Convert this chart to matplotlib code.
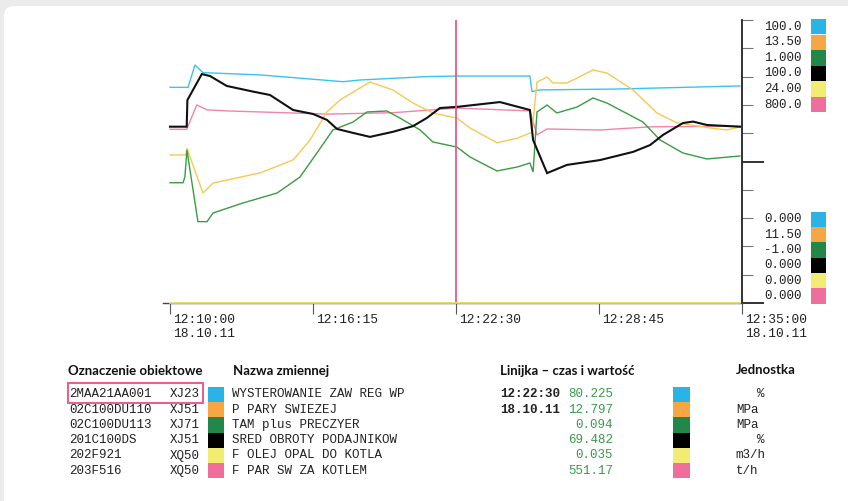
import matplotlib
matplotlib.use("Agg")
import matplotlib.pyplot as plt
from matplotlib.patches import FancyBboxPatch, Rectangle
import matplotlib.transforms as mtransforms

# ---------------- data ----------------
time_ticks = [0, 6.25, 12.5, 18.75, 25]          # minutes after 12:10:00
time_labels = ["12:10:00\n18.10.11", "12:16:15", "12:22:30", "12:28:45", "12:35:00\n18.10.11"]
cursor_t = 12.5

series_names = ["WYSTEROWANIE ZAW REG WP", "P PARY SWIEZEJ", "TAM plus PRECZYER",
                "SRED OBROTY PODAJNIKOW", "F OLEJ OPAL DO KOTLA", "F PAR SW ZA KOTLEM"]
series_ids = ["2MAA21AA001", "02C100DU110", "02C100DU113", "201C100DS", "202F921", "203F516"]
series_codes = ["XJ23", "XJ51", "XJ71", "XJ51", "XQ50", "XQ50"]
units = ["%", "MPa", "MPa", "%", "m3/h", "t/h"]
scale_max = [100.0, 13.50, 1.000, 100.0, 24.00, 800.0]
scale_max_lbl = ["100.0", "13.50", "1.000", "100.0", "24.00", "800.0"]
scale_min = [0.0, 11.50, -1.00, 0.0, 0.0, 0.0]
scale_min_lbl = ["0.000", "11.50", "-1.00", "0.000", "0.000", "0.000"]
cursor_vals = ["80.225", "12.797", "0.094", "69.482", "0.035", "551.17"]

cyan_t = [0, 0.79, 1.09, 1.44, 3.93, 7.56, 8.30, 11.23, 12.54, 15.73, 15.82, 16.17, 19.5, 24.91]
cyan_v = [76.2, 76.2, 84.1, 81.4, 80.6, 78.2, 78.8, 80.0, 80.2, 80.2, 74.7, 75.3, 75.6, 76.7]

orange_t = [0, 0.70, 0.74, 1.44, 1.88, 3.93, 5.38, 6.12, 6.86, 7.43, 8.74, 9.75, 10.62, 11.49,
            12.54, 13.11, 14.29, 15.17, 15.82, 16.04, 16.48, 16.74, 17.35, 17.79, 18.49, 19.10,
            20.24, 21.28, 22.16, 23.60, 24.34, 24.91]
orange_v = [12.546, 12.546, 12.595, 12.277, 12.348, 12.419, 12.511, 12.652, 12.850, 12.935,
            13.062, 13.005, 12.913, 12.843, 12.807, 12.737, 12.633, 12.664, 12.707, 13.062,
            13.097, 13.055, 13.055, 13.090, 13.147, 13.125, 13.005, 12.843, 12.773, 12.737,
            12.723, 12.744]

green_t = [0, 0.57, 0.65, 0.74, 1.22, 1.62, 1.88, 3.19, 4.68, 5.68, 6.42, 7.12, 8.00, 8.61,
           9.48, 10.05, 10.93, 11.49, 12.54, 13.11, 14.29, 15.17, 15.73, 15.87, 16.04, 16.48,
           16.91, 17.79, 18.49, 19.10, 20.67, 21.42, 22.42, 23.47, 24.91]
green_v = [-0.150, -0.150, -0.110, 0.081, -0.425, -0.425, -0.364, -0.293, -0.223, -0.110,
           0.060, 0.223, 0.279, 0.350, 0.357, 0.307, 0.223, 0.138, 0.102, 0.032, -0.067,
           -0.039, -0.011, -0.074, 0.350, 0.399, 0.343, 0.385, 0.449, 0.413, 0.279, 0.152,
           0.060, 0.018, 0.039]

black_t = [0, 0.73, 0.76, 1.39, 1.75, 2.48, 3.63, 4.37, 5.38, 6.25, 6.86, 7.30, 8.00, 8.74,
           9.75, 10.62, 11.23, 11.80, 12.54, 14.42, 15.73, 15.87, 16.48, 17.35, 18.79, 20.24,
           20.98, 21.55, 22.42, 22.86, 23.47, 24.91]
black_v = [62.3, 62.3, 71.7, 80.9, 80.2, 76.7, 74.7, 73.5, 68.2, 66.8, 64.7, 61.5, 60.1, 58.7,
           60.5, 62.5, 65.4, 68.9, 69.3, 71.0, 68.2, 57.6, 45.9, 48.8, 50.5, 53.4, 55.8, 59.4,
           63.6, 64.1, 62.9, 62.3]

yellow_t = [0, 24.91]
yellow_v = [0.035, 0.035]

pink_t = [0, 0.73, 1.17, 1.62, 2.5, 6.86, 9.75, 12.54, 15.73, 16.04, 16.48, 18.79, 20.98, 24.91]
pink_v = [491, 491, 560, 546, 543, 534, 538, 551, 543, 475, 492, 489, 498, 500]

# ---------------- styles ----------------
swatch_colors = ["#2ab4e6", "#f6a744", "#23874a", "#000000", "#f3ec72", "#ee6f9c"]
line_colors = ["#3cc2ee", "#f7c852", "#3a9c42", "#111111", "#efe060", "#f184aa"]
line_widths = [1.0, 1.0, 1.0, 1.5, 1.2, 1.0]
mono = "Liberation Mono"
head = "Lato"

W, H = 848, 501
fig = plt.figure(figsize=(W / 100, H / 100), dpi=100, facecolor="#ebebeb")

def fx(px):
    return px / W

def fy(py):
    return 1 - py / H

# white rounded panel
panel = FancyBboxPatch((0.04, -0.3), 9.0, H / 100 - 0.06 + 0.3,
                       boxstyle="round,pad=0,rounding_size=0.1",
                       transform=fig.dpi_scale_trans, facecolor="white",
                       edgecolor="none", zorder=-10)
fig.patches.append(panel)

# ---------------- main axes ----------------
x0, x1, ytop, ybot = 163, 742, 20, 303
ax = fig.add_axes([fx(x0), fy(ybot), fx(x1) - fx(x0), (ybot - ytop) / H])
ax.set_zorder(5)
ax.set_facecolor("none")
px_per_min = (x1 - 170) / 25.0
ax.set_xlim(-(170 - x0) / px_per_min, 25)
ax.set_ylim(0, 1)

all_t = [cyan_t, orange_t, green_t, black_t, yellow_t, pink_t]
all_v = [cyan_v, orange_v, green_v, black_v, yellow_v, pink_v]
order = [4, 0, 5, 1, 2, 3]
for i in order:
    lo, hi = scale_min[i], scale_max[i]
    yn = [(v - lo) / (hi - lo) for v in all_v[i]]
    ax.plot(all_t[i], yn, color=line_colors[i], lw=line_widths[i], zorder=3 + (i == 4) * 3,
            solid_joinstyle="miter", clip_on=False)

ax.axvline(cursor_t, color="#e9578a", lw=1.3, zorder=5)

for s in ["top", "left"]:
    ax.spines[s].set_visible(False)
ax.spines["bottom"].set_color("#444444")
ax.spines["bottom"].set_linewidth(1.0)
ax.spines["right"].set_color("#222222")
ax.spines["right"].set_linewidth(1.3)

ax.set_xticks(time_ticks)
ax.set_xticklabels(time_labels, fontfamily=mono, fontsize=9.3, color="#222222",
                   linespacing=1.25)
ax.tick_params(axis="x", direction="out", length=8, width=0.8, color="#555555", pad=0)
offset = mtransforms.ScaledTranslation(3 / 100, 0, fig.dpi_scale_trans)
for lbl in ax.get_xticklabels():
    lbl.set_horizontalalignment("left")
    lbl.set_transform(lbl.get_transform() + offset)

ax.yaxis.tick_right()
ax.set_yticks([0, 0.5])
ax.set_yticks([0.1, 0.2, 0.3, 0.4, 0.6, 0.7, 0.8, 0.9, 1.0], minor=True)
ax.tick_params(axis="y", which="major", direction="out", length=16, width=1.3,
               color="#222222", labelright=False, labelleft=False)
ax.tick_params(axis="y", which="minor", direction="out", length=8, width=0.8,
               color="#777777", labelright=False, labelleft=False)

# ---------------- right scale labels ----------------
top_rows = [26.7, 42.3, 57.9, 73.5, 89.1, 104.7]
bot_rows = [219.5, 234.8, 250.1, 265.4, 280.7, 296.0]
for i in range(6):
    fig.text(fx(802), fy(top_rows[i]), scale_max_lbl[i], ha="right", va="center",
             fontfamily=mono, fontsize=9, color="#222222")
    fig.text(fx(802), fy(bot_rows[i]), scale_min_lbl[i], ha="right", va="center",
             fontfamily=mono, fontsize=9, color="#222222")
    for rows in (top_rows, bot_rows):
        yc = rows[i]
        fig.patches.append(Rectangle((fx(811), fy(yc + 7.65)), fx(826) - fx(811), 15.3 / H,
                                     transform=fig.transFigure, facecolor=swatch_colors[i],
                                     edgecolor="none", zorder=2))

# ---------------- table ----------------
hdr_y = 371
fig.text(fx(68), fy(hdr_y), "Oznaczenie obiektowe", fontfamily=head, fontweight="bold",
         fontsize=9.5, ha="left", va="center", color="#111111")
fig.text(fx(233), fy(hdr_y), "Nazwa zmiennej", fontfamily=head, fontweight="bold",
         fontsize=9.5, ha="left", va="center", color="#111111")
fig.text(fx(500), fy(hdr_y), "Linijka \u2013 czas i warto\u015b\u0107", fontfamily=head,
         fontweight="bold", fontsize=9.5, ha="left", va="center", color="#111111")
fig.text(fx(736), fy(hdr_y - 1), "Jednostka", fontfamily=head, fontweight="bold",
         fontsize=9.5, ha="left", va="center", color="#111111")

row_y = [394.3, 409.6, 424.9, 440.2, 455.5, 470.8]
unit_x = [757, 736, 736, 757, 735, 736]
for i in range(6):
    y = row_y[i]
    fig.text(fx(69), fy(y), series_ids[i], fontfamily=mono, fontsize=9, ha="left",
             va="center", color="#222222")
    fig.text(fx(170), fy(y), series_codes[i], fontfamily=mono, fontsize=9, ha="left",
             va="center", color="#222222")
    fig.text(fx(232), fy(y), series_names[i], fontfamily=mono, fontsize=9, ha="left",
             va="center", color="#222222")
    fig.text(fx(613), fy(y), cursor_vals[i], fontfamily=mono, fontsize=9, ha="right",
             va="center", color="#3a9a4a")
    fig.text(fx(unit_x[i]), fy(y), units[i], fontfamily=mono, fontsize=9, ha="left",
             va="center", color="#222222")
    for xa, xb in ((208, 224), (673, 690)):
        fig.patches.append(Rectangle((fx(xa), fy(y + 7.65)), fx(xb) - fx(xa), 15.3 / H,
                                     transform=fig.transFigure, facecolor=swatch_colors[i],
                                     edgecolor="none", zorder=2))

fig.text(fx(500), fy(row_y[0]), "12:22:30", fontfamily=mono, fontsize=9, fontweight="bold",
         ha="left", va="center", color="#222222")
fig.text(fx(500), fy(row_y[1]), "18.10.11", fontfamily=mono, fontsize=9, fontweight="bold",
         ha="left", va="center", color="#222222")

fig.patches.append(Rectangle((fx(67.5), fy(403.3)), fx(202.7) - fx(67.5), 20 / H,
                             transform=fig.transFigure, facecolor="none",
                             edgecolor="#e9628e", lw=1.5, zorder=3))

fig.savefig("out.png", dpi=100, facecolor=fig.get_facecolor())
